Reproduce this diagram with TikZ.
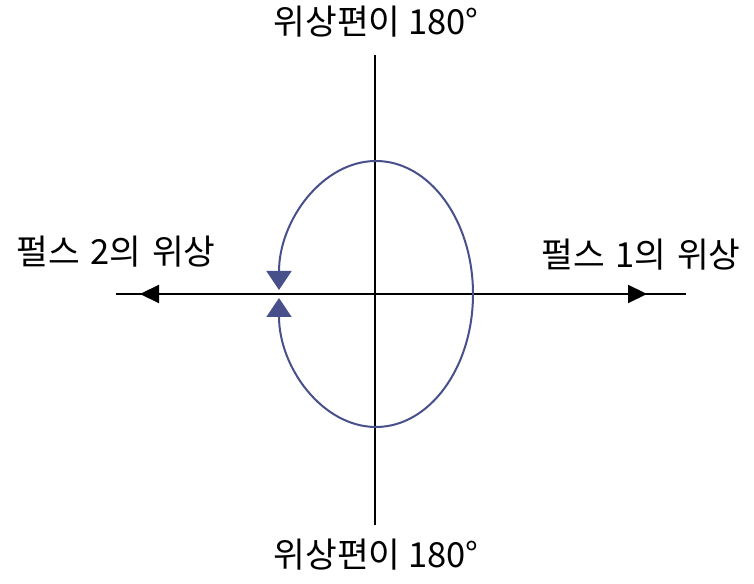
\documentclass[tikz,border=0pt]{standalone}
\usepackage{fontspec}
\setmainfont{Noto Sans CJK KR}
\usepackage{xcolor}
\usepackage{tikz}
\usetikzlibrary{arrows.meta, calc}

\definecolor{phaseblue}{RGB}{72,80,140}

\begin{document}
\begin{tikzpicture}[
  x=1pt, y=1pt,
  every node/.style={font=\fontsize{34.5}{38}\selectfont, inner sep=0pt},
  axis/.style={line width=2.2pt, black},
  axtip/.style={line width=2.2pt, black,
                -{Triangle[length=19pt, width=18pt]}},
  orbit/.style={line width=2pt, phaseblue},
  orbtip/.style={line width=2pt, phaseblue, shorten >=4pt,
                 -{Triangle[length=19pt, width=25pt]}}
]
  \useasboundingbox (0,0) rectangle (754,583);

  % Axes
  \coordinate (o)     at (376,289);
  \coordinate (left)  at (116,289);
  \coordinate (right) at (686,289);
  \coordinate (up)    at (375,528);
  \coordinate (down)  at (375,58);
  \coordinate (ltip)  at (140,289);
  \coordinate (rtip)  at (647,289);
  \draw[axis] (left) -- (right);
  \draw[axis] (up) -- (down);
  \draw[axtip] (o) -- (ltip);
  \draw[axtip] (o) -- (rtip);

  % Phase orbit
  \coordinate (otop) at (376,422);
  \coordinate (obot) at (376,156);
  \draw[orbit] (otop) arc[start angle=90, end angle=-90,
                         x radius=97pt, y radius=133pt];
  \draw[orbtip] (otop) arc[start angle=90, end angle=180,
                          x radius=97pt, y radius=133pt];
  \draw[orbtip] (obot) arc[start angle=-90, end angle=-180,
                          x radius=97pt, y radius=133pt];

  % Labels
  \node (shifttop) at (376,561) {위상편이 180°};
  \node (shiftbot) at (376,28)  {위상편이 180°};
  \node (pulse2)   at (116,331) {펄스\hspace{3pt} 2의\hspace{3pt} 위상};
  \node (pulse1)   at (641,328) {펄스\hspace{3pt} 1의\hspace{3pt} 위상};
\end{tikzpicture}
\end{document}
